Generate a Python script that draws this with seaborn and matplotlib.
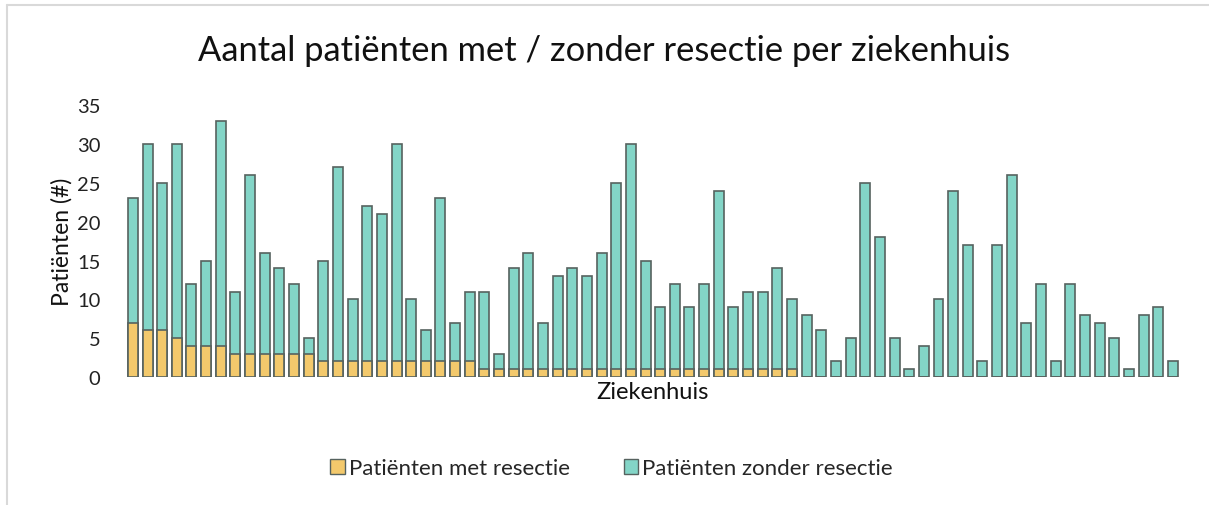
import numpy as np
import pandas as pd
import matplotlib
matplotlib.use("Agg")
import matplotlib.pyplot as plt
import seaborn as sns
from matplotlib.patches import Patch
from matplotlib.lines import Line2D

# totaal aantal patienten per ziekenhuis
totaal = [23, 30, 25, 30, 12, 15, 33, 11, 26, 16,
          14, 12, 5, 15, 27, 10, 22, 21, 30, 10,
          6, 23, 7, 11, 11, 3, 14, 16, 7, 13,
          14, 13, 16, 25, 30, 15, 9, 12, 9, 12,
          24, 9, 11, 11, 14, 10, 8, 6, 2, 5,
          25, 18, 5, 1, 4, 10, 24, 17, 2, 17,
          26, 7, 12, 2, 12, 8, 7, 5, 1, 8,
          9, 2]

# patienten met resectie
met_resectie = [7, 6, 6, 5, 4, 4, 4, 3, 3, 3,
                3, 3, 3, 2, 2, 2, 2, 2, 2, 2,
                2, 2, 2, 2, 1, 1, 1, 1, 1, 1,
                1, 1, 1, 1, 1, 1, 1, 1, 1, 1,
                1, 1, 1, 1, 1, 1, 0, 0, 0, 0,
                0, 0, 0, 0, 0, 0, 0, 0, 0, 0,
                0, 0, 0, 0, 0, 0, 0, 0, 0, 0,
                0, 0]

ziekenhuizen = [f"ZH{i + 1}" for i in range(len(totaal))]

df = pd.DataFrame({
    "ziekenhuis": ziekenhuizen,
    "totaal": totaal,
    "met": met_resectie,
})

kleur_met = "#F3C96C"
kleur_zonder = "#83D5C7"
rand = "#56625F"

sns.set_theme(style="white")
plt.rcParams['font.family'] = ['Lato', 'DejaVu Sans']

fig = plt.figure(figsize=(12.09, 5.06), dpi=100)
ax = fig.add_axes([0.099, 0.253, 0.882, 0.537])

# zonder resectie: hele staaf, daarna met resectie eroverheen
sns.barplot(data=df, x="ziekenhuis", y="totaal", color=kleur_zonder,
            edgecolor=rand, linewidth=1.2, width=0.68, saturation=1, ax=ax)
sns.barplot(data=df, x="ziekenhuis", y="met", color=kleur_met,
            edgecolor=rand, linewidth=1.2, width=0.68, saturation=1, ax=ax)

ax.set_ylim(0, 35)
ax.set_yticks(range(0, 36, 5))
ax.set_xlim(-0.9, len(totaal) - 0.1)
ax.set_xticks([])
ax.tick_params(axis="y", labelsize=14.5, length=0, pad=14, colors="#222222")
for s in ax.spines.values():
    s.set_visible(False)

ax.set_xlabel("Ziekenhuis", fontsize=17, labelpad=3, color="#111111")
ax.set_ylabel("Patiënten (#)", fontsize=16.5, labelpad=3, color="#111111")

fig.text(0.5, 0.9, "Aantal patiënten met / zonder resectie per ziekenhuis",
         ha="center", va="center", fontsize=24.8, color="#111111")

handles = [Patch(facecolor=kleur_met, edgecolor=rand, label="Patiënten met resectie"),
           Patch(facecolor=kleur_zonder, edgecolor=rand, label="Patiënten zonder resectie")]
fig.legend(handles=handles, loc="center", bbox_to_anchor=(0.506, 0.073), ncol=2,
           frameon=False, fontsize=16, handlelength=0.65, handleheight=0.65,
           handletextpad=0.2, columnspacing=2.4)

# lichte rand links en boven
fig.add_artist(Line2D([0.0054, 0.0054], [0, 0.989], transform=fig.transFigure,
                      color="#D9D9D9", linewidth=1.5))
fig.add_artist(Line2D([0.0054, 1], [0.989, 0.989], transform=fig.transFigure,
                      color="#D9D9D9", linewidth=1.5))

fig.savefig("out.png", dpi=100)
